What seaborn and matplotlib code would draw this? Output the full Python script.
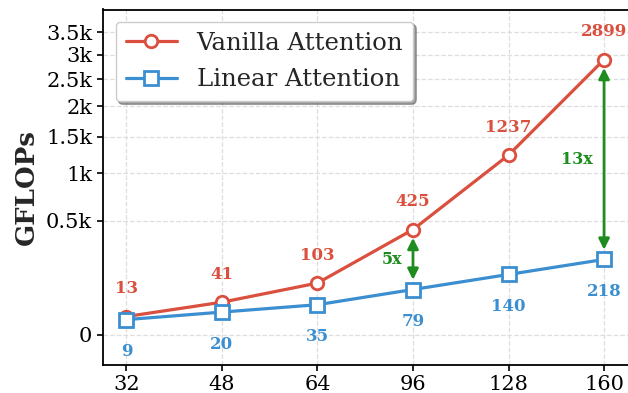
import numpy as np
import pandas as pd
import matplotlib
matplotlib.use("Agg")
import matplotlib.pyplot as plt
from matplotlib.ticker import FuncFormatter, FixedLocator
import seaborn as sns

# Sequence lengths and measured compute cost (GFLOPs)
seq_lengths = [32, 48, 64, 96, 128, 160]
vanilla_gflops = [13, 41, 103, 425, 1237, 2899]
linear_gflops = [9, 20, 35, 79, 140, 218]
y_ticks = [0, 500, 1000, 1500, 2000, 2500, 3000, 3500]
# speed-up callouts: (index of sequence length, text)
speedups = [(3, "5x"), (5, "13x")]

red = "#DA4F3D"
blue = "#3B8FD0"
green = "#1E8C1E"

sns.set_style("ticks")
plt.rcParams["font.family"] = ["DejaVu Serif"]

pos = np.arange(len(seq_lengths))
df = pd.DataFrame({
    "pos": np.concatenate([pos, pos]),
    "gflops": vanilla_gflops + linear_gflops,
    "method": ["Vanilla Attention"] * len(pos) + ["Linear Attention"] * len(pos),
})

fig = plt.figure(figsize=(6.28, 3.93), dpi=100)
ax = fig.add_axes([102.5 / 628, 28 / 393, 535 / 628, 355.5 / 393])


def fwd(v):
    v = np.asarray(v, dtype=float)
    return np.sign(v) * np.sqrt(np.abs(v))


def inv(v):
    v = np.asarray(v, dtype=float)
    return np.sign(v) * v ** 2


ax.set_yscale("function", functions=(fwd, inv))

sns.lineplot(data=df[df.method == "Vanilla Attention"], x="pos", y="gflops",
             ax=ax, color=red, lw=2.3, marker="o", markersize=9,
             markerfacecolor="white", markeredgecolor=red, markeredgewidth=2,
             label="Vanilla Attention")
sns.lineplot(data=df[df.method == "Linear Attention"], x="pos", y="gflops",
             ax=ax, color=blue, lw=2.3, marker="s", markersize=10,
             markerfacecolor="white", markeredgecolor=blue, markeredgewidth=2,
             label="Linear Attention")

# value labels
for i, (v, l) in enumerate(zip(vanilla_gflops, linear_gflops)):
    ax.annotate(f"{v}", (i, v), xytext=(0, 20), textcoords="offset points",
                ha="center", va="center", color=red, fontsize=12, fontweight="bold")
    ax.annotate(f"{l}", (i, l), xytext=(0, -23), textcoords="offset points",
                ha="center", va="center", color=blue, fontsize=12, fontweight="bold")

# speed-up arrows
for i, txt in speedups:
    ax.annotate("", xy=(i, linear_gflops[i]), xytext=(i, vanilla_gflops[i]),
                arrowprops=dict(arrowstyle="<|-|>", color=green, lw=2,
                                mutation_scale=16, shrinkA=6, shrinkB=7))
    mid = inv((fwd(vanilla_gflops[i]) + fwd(linear_gflops[i])) / 2)
    ax.annotate(txt, (i, mid), xytext=(-8, 0), textcoords="offset points",
                ha="right", va="center", color=green, fontsize=11.5, fontweight="bold")

ax.set_xlim(-0.25, 5.35)
ax.set_ylim(-34.5, 4050)
ax.set_xticks(pos)
ax.set_xticklabels([str(s) for s in seq_lengths])
ax.yaxis.set_major_locator(FixedLocator(y_ticks))
ax.yaxis.set_minor_locator(FixedLocator([]))
ax.yaxis.set_major_formatter(FuncFormatter(lambda v, p: "0" if v == 0 else f"{v / 1000:g}k"))
ax.tick_params(axis="both", labelsize=15, length=4, width=1.2, colors="black", direction="out")
ax.set_xlabel("")
ax.set_ylabel("GFLOPs", fontsize=18.7, fontweight="bold", labelpad=5)
ax.grid(True, ls="--", color="#dedede", lw=0.9)
for s in ax.spines.values():
    s.set_color("black")
    s.set_linewidth(1.3)

leg = ax.legend(loc="upper left", fontsize=17.6, frameon=True, fancybox=True,
                shadow=True, framealpha=1, edgecolor="#cccccc",
                handlelength=2.1, handletextpad=0.8, borderpad=0.42,
                labelspacing=0.55, borderaxespad=0,
                bbox_to_anchor=(13 / 535, 1 - 12 / 355.5))

fig.savefig("out.png", dpi=100)
